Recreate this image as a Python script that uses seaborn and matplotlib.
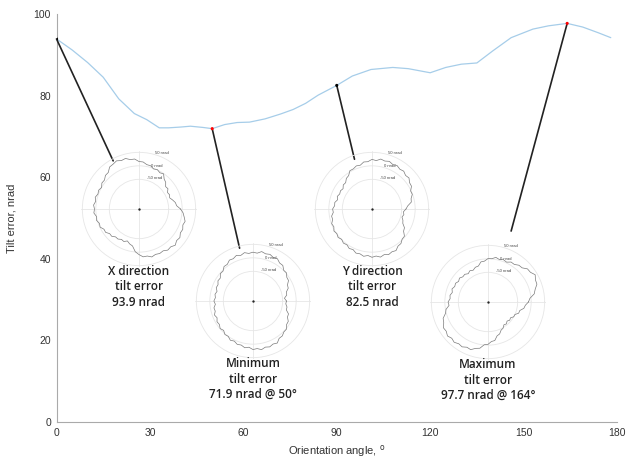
import matplotlib
matplotlib.use("Agg")
import matplotlib.pyplot as plt
import numpy as np
import pandas as pd
import seaborn as sns

# tilt error as a function of the orientation angle
angle = [0, 5, 10, 15, 20, 25, 29, 33, 36, 40, 43, 47, 50, 54, 58, 62, 67, 72, 76, 80,
         84, 90, 95, 101, 108, 113, 120, 125, 130, 135, 140, 146, 153, 158, 164, 169, 174, 178]
tilt = [93.9, 91.2, 88.1, 84.5, 79.2, 75.6, 74.1, 72.1, 72.1, 72.3, 72.5, 72.2, 71.9, 72.9,
        73.4, 73.5, 74.3, 75.5, 76.6, 78.1, 80.1, 82.5, 84.8, 86.4, 86.9, 86.6, 85.6, 86.9,
        87.7, 88.0, 90.9, 94.2, 96.3, 97.1, 97.7, 96.8, 95.4, 94.2]

# highlighted orientations
mark_angle = [0, 50, 90, 164]
mark_tilt = [93.9, 71.9, 82.5, 97.7]
mark_color = ["black", "red", "black", "red"]
captions = ["X direction\ntilt error\n93.9 nrad",
            "Minimum\ntilt error\n71.9 nrad @ 50°",
            "Y direction\ntilt error\n82.5 nrad",
            "Maximum\ntilt error\n97.7 nrad @ 164°"]

# polar error maps (nrad), every 5 degrees
polar_deg = [0, 5, 10, 15, 20, 25, 30, 35, 40, 45, 50, 55, 60, 65, 70, 75, 80, 85,
             90, 95, 100, 105, 110, 115, 120, 125, 130, 135, 140, 145, 150, 155, 160, 165, 170, 175,
             180, 185, 190, 195, 200, 205, 210, 215, 220, 225, 230, 235, 240, 245, 250, 255, 260, 265,
             270, 275, 280, 285, 290, 295, 300, 305, 310, 315, 320, 325, 330, 335, 340, 345, 350, 355]
polar_x = [-6, -20, -23, -31, -39, -35, -38, -29, -31, -20, -15, -1, -5, 1, -2, 6, 7, 15,
           16, 26, 26, 34, 31, 37, 32, 30, 17, 16, 7, 8, 0, 5, 2, 8, 3, 9,
           5, 8, 0, 3, -4, -1, -10, -9, -18, -17, -25, -24, -30, -27, -34, -26, -21, -1,
           9, 18, 17, 24, 19, 22, 19, 26, 23, 30, 22, 25, 17, 19, 13, 17, 10, 4]
polar_min = [-36, -43, -33, -32, -21, -19, -8, -7, 2, 1, 12, 12, 21, 18, 24, 21, 26, 18,
             21, 17, 22, 15, 20, 13, 15, 6, 7, -3, -2, -12, -10, -17, -15, -22, -17, -20,
             -15, -20, -13, -15, -8, -13, -6, -8, -1, -6, 2, 0, 8, 4, 11, 9, 16, 12,
             20, 17, 23, 17, 21, 16, 20, 9, 9, 2, 2, -8, -9, -19, -20, -32, -32, -38]
polar_y = [-34, -27, -12, -10, -1, -2, 9, 10, 19, 16, 23, 20, 26, 22, 28, 24, 28, 20,
           24, 16, 17, 8, 10, 4, 4, -9, -12, -22, -21, -29, -25, -28, -23, -28, -20, -21,
           -14, -16, -8, -9, -1, -4, 3, -1, 4, -1, 5, 2, 9, 6, 14, 12, 18, 13,
           19, 15, 21, 15, 20, 15, 18, 8, 7, -2, -3, -17, -21, -34, -38, -45, -40, -43]
polar_max = [-10, -4, 14, 21, 33, 34, 42, 32, 31, 19, 18, 10, 11, 3, 7, 3, 8, 1,
             1, -8, -9, -22, -23, -30, -26, -32, -26, -28, -22, -27, -21, -24, -18, -23, -17, -19,
             -12, -15, -2, 3, 17, 21, 31, 29, 36, 30, 35, 29, 32, 25, 28, 18, 14, -1,
             -3, -13, -15, -30, -34, -45, -48, -57, -54, -60, -55, -58, -50, -50, -39, -38, -25, -21]
polar_maps = [polar_x, polar_min, polar_y, polar_max]

# layout: inset centres (figure pixels from top-left) and connector ends (data units)
W, H = 630, 461
inset_centre = [(139, 209), (253, 301), (372, 209), (488, 302)]
inset_r = 58
link_end = [(18.2, 64.0), (58.8, 42.6), (95.7, 64.4), (146.0, 46.8)]

sns.set_theme(style="white")
plt.rcParams["font.family"] = ["Liberation Sans", "DejaVu Sans"]

fig = plt.figure(figsize=(W / 100, H / 100), dpi=100)
ax = fig.add_axes([56.5 / W, 39 / H, (617 - 56.5) / W, (422 - 14) / H])

df = pd.DataFrame({"angle": angle, "tilt": tilt})
sns.lineplot(data=df, x="angle", y="tilt", ax=ax, color="#a6cde9", lw=0.9)

for (x0, y0), (x1, y1) in zip(zip(mark_angle, mark_tilt), link_end):
    ax.annotate("", xy=(x0, y0), xytext=(x1, y1),
                arrowprops=dict(arrowstyle="-", color="#222222", lw=1.2,
                                shrinkA=0, shrinkB=0))
ax.scatter(mark_angle, mark_tilt, c=mark_color, s=5, zorder=5, linewidths=0)

ax.set_xlim(0, 180)
ax.set_ylim(0, 100)
ax.set_xticks(range(0, 181, 30))
ax.set_yticks(range(0, 101, 20))
ax.tick_params(direction="in", length=4, width=0.8, color="#aaaaaa",
               labelcolor="#333333", labelsize=7.5, pad=4)
for s in ["top", "right"]:
    ax.spines[s].set_visible(False)
for s in ["left", "bottom"]:
    ax.spines[s].set_color("#aaaaaa")
    ax.spines[s].set_linewidth(0.8)
ax.set_xlabel("Orientation angle, $^{\\mathrm{o}}$", fontsize=8, color="#333333", labelpad=4)
ax.set_ylabel("Tilt error, nrad", fontsize=8, color="#333333", labelpad=12)

theta = np.deg2rad(polar_deg + [360])
for (cx, cy), vals, cap in zip(inset_centre, polar_maps, captions):
    pax = fig.add_axes([(cx - inset_r) / W, (H - cy - inset_r) / H,
                        2 * inset_r / W, 2 * inset_r / H], projection="polar")
    pax.set_facecolor("none")
    sns.lineplot(x=theta, y=vals + vals[:1], ax=pax, sort=False, estimator=None,
                 color="#7a7a7a", lw=0.5)
    pax.plot(0, -160, "o", ms=0.7, color="#222222")
    pax.set_ylim(-160, 55)
    pax.set_yticks([-50, 0, 50])
    pax.set_yticklabels(["-50 nrad", "0 nrad", "50 nrad"], fontsize=3, color="#444444")
    pax.set_rlabel_position(74)
    pax.set_xticks(np.deg2rad([0, 90, 180, 270]))
    pax.set_xticklabels([])
    pax.grid(True, color="#e6e6e6", lw=0.6)
    pax.spines["polar"].set_visible(False)
    fig.text(cx / W, 1 - (cy + 56) / H, cap, ha="center", va="top", fontsize=8.5,
             family=["Open Sans", "DejaVu Sans"], weight="semibold",
             color="#222222", linespacing=1.25)

fig.savefig("out.png", dpi=100)
